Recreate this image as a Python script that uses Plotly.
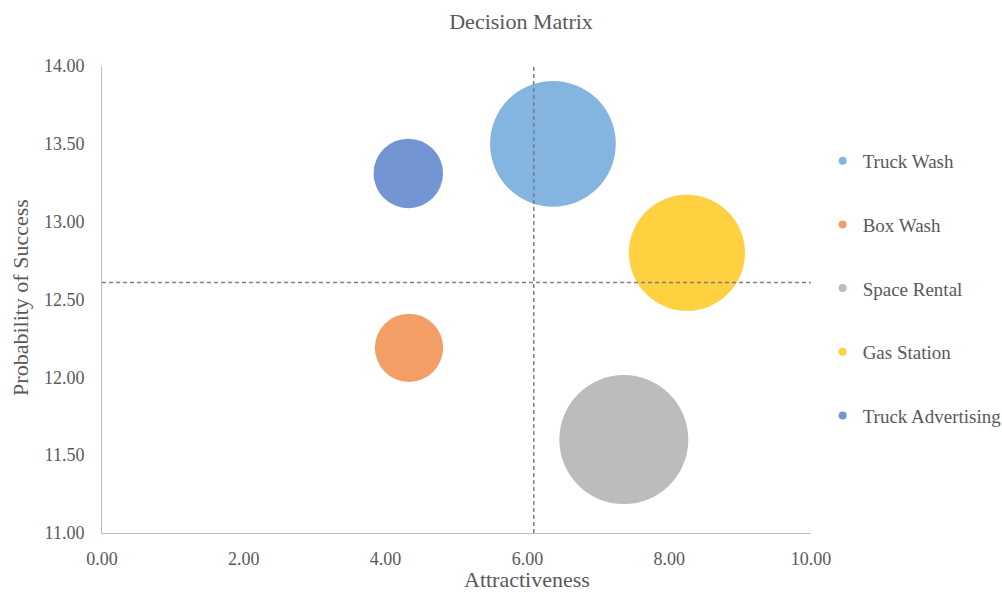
import plotly.graph_objects as go

# Options being compared
options = ["Truck Wash", "Box Wash", "Space Rental", "Gas Station", "Truck Advertising"]
attractiveness = [6.36, 4.33, 7.36, 8.25, 4.32]
probability = [13.50, 12.19, 11.60, 12.80, 13.31]
bubble_size = [9.5, 2.8, 10.0, 8.1, 2.9]
colors = ["#5B9BD5", "#ED7D31", "#A5A5A5", "#FFC000", "#4472C4"]

# Quadrant divider positions
x_divider = 6.09
y_divider = 12.61

x_ticks = [0, 2, 4, 6, 8, 10]
y_ticks = [11.0, 11.5, 12.0, 12.5, 13.0, 13.5, 14.0]

FONT = "Liberation Serif, Times New Roman, serif"
TEXT = "#595959"
MAX_RADIUS = 64.5
sizeref = max(bubble_size) / (2 * MAX_RADIUS ** 2)

fig = go.Figure()

for name, x, y, s, c in zip(options, attractiveness, probability, bubble_size, colors):
    fig.add_trace(go.Scatter(
        x=[x], y=[y], mode="markers", name=name,
        legendgroup=name, showlegend=False,
        marker=dict(size=[s], sizemode="area", sizeref=sizeref,
                    color=c, opacity=0.75, line=dict(width=0)),
        hoverinfo="name+x+y",
    ))
    # small fixed-size swatch for the legend
    fig.add_trace(go.Scatter(
        x=[None], y=[None], mode="markers", name=name,
        legendgroup=name, showlegend=True,
        marker=dict(size=8, color=c, opacity=0.75),
    ))

dash_line = dict(color="#7F7F7F", width=1.5, dash="4px,3px")
fig.add_trace(go.Scatter(x=[x_divider, x_divider], y=[y_ticks[0], y_ticks[-1]],
                         mode="lines", line=dash_line, showlegend=False, hoverinfo="skip"))
fig.add_trace(go.Scatter(x=[x_ticks[0], x_ticks[-1]], y=[y_divider, y_divider],
                         mode="lines", line=dash_line, showlegend=False, hoverinfo="skip"))

fig.update_layout(
    width=1002, height=596,
    paper_bgcolor="white", plot_bgcolor="white",
    margin=dict(l=102, r=191, t=66, b=63, autoexpand=False),
    font=dict(family=FONT, color=TEXT, size=18),
    title=dict(text="Decision Matrix", x=0.52, xref="container", xanchor="center",
               y=0.965, yref="container", yanchor="middle",
               font=dict(family=FONT, size=22, color=TEXT)),
    showlegend=True,
    legend=dict(x=0.821, xref="container", xanchor="left",
                y=0.762, yref="container", yanchor="top",
                traceorder="grouped", tracegroupgap=36,
                font=dict(family=FONT, size=19, color=TEXT),
                itemwidth=30, bgcolor="rgba(0,0,0,0)"),
    xaxis=dict(range=[x_ticks[0], x_ticks[-1]], tickvals=x_ticks, tickformat=".2f",
               showgrid=False, zeroline=False, showline=True, linecolor="#BFBFBF",
               linewidth=1, ticks="", ticklen=0, ticklabelstandoff=9,
               tickfont=dict(family=FONT, size=18, color=TEXT)),
    yaxis=dict(range=[y_ticks[0], y_ticks[-1]], tickvals=y_ticks, tickformat=".2f",
               showgrid=False, zeroline=False, showline=True, linecolor="#BFBFBF",
               linewidth=1, ticks="", ticklen=0, ticklabelstandoff=13,
               tickfont=dict(family=FONT, size=18, color=TEXT)),
    annotations=[
        dict(text="Attractiveness", xref="paper", yref="paper", x=0.599, y=-0.1,
             xanchor="center", yanchor="middle", showarrow=False,
             font=dict(family=FONT, size=22, color=TEXT)),
        dict(text="Probability of Success", xref="paper", yref="paper", x=-0.116, y=0.505,
             xanchor="center", yanchor="middle", textangle=-90, showarrow=False,
             font=dict(family=FONT, size=22, color=TEXT)),
    ],
)

fig.write_html("out.html")
